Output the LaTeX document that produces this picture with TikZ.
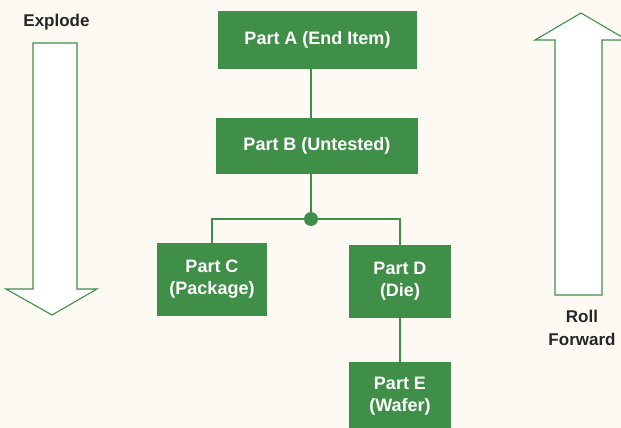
\documentclass[tikz,border=0pt]{standalone}
\usepackage{fontspec}
\setmainfont{Liberation Sans}
\definecolor{partgreen}{RGB}{63,143,72}
\definecolor{paper}{RGB}{252,250,243}
\definecolor{ink}{RGB}{38,38,38}
\begin{document}
\begin{tikzpicture}
[x=1pt,y=-1pt,
part/.style={rectangle,fill=partgreen,text=white,inner sep=0pt,align=center,font=\bfseries\fontsize{18}{22}\selectfont},
link/.style={draw=partgreen,line width=1.4pt},
bigarrow/.style={draw=partgreen,line width=1.1pt,fill=white,line join=miter},
caption/.style={text=ink,align=center,font=\bfseries\fontsize{17}{23}\selectfont}]
\fill[paper] (0,0) rectangle (621,428);
\useasboundingbox (0,0) rectangle (621,428);
% explode / roll forward arrows
\draw[bigarrow] (33,43) -- (77,43) -- (77,289) -- (97,289) -- (52,315) -- (6,289) -- (33,289) -- cycle;
\draw[bigarrow] (555,295) -- (602,295) -- (602,40) -- (627,40) -- (581,13) -- (535,40) -- (555,40) -- cycle;
\node[caption] (explode) at (56.5,22) {Explode};
\node[caption] (roll) at (582,328) {Roll\\Forward};
% parts tree
\node[part,minimum width=199pt,minimum height=58pt] (A) at (317.5,40) {Part A (End Item)};
\node[part,minimum width=202pt,minimum height=56pt] (B) at (317,146) {Part B (Untested)};
\node[part,minimum width=110pt,minimum height=73pt] (C) at (212,279.5) {Part C\\(Package)};
\node[part,minimum width=102pt,minimum height=73pt] (D) at (400,281.5) {Part D\\(Die)};
\node[part,minimum width=102pt,minimum height=68pt] (E) at (400,396) {Part E\\(Wafer)};
\coordinate (j) at (311,219);
\draw[link] (A.south -| j) -- (B.north -| j);
\draw[link] (B.south -| j) -- (j);
\draw[link] (C.north) |- (j) -| (D.north);
\draw[link] (D.south) -- (E.north);
\fill[partgreen] (j) circle (7pt);
\end{tikzpicture}
\end{document}
